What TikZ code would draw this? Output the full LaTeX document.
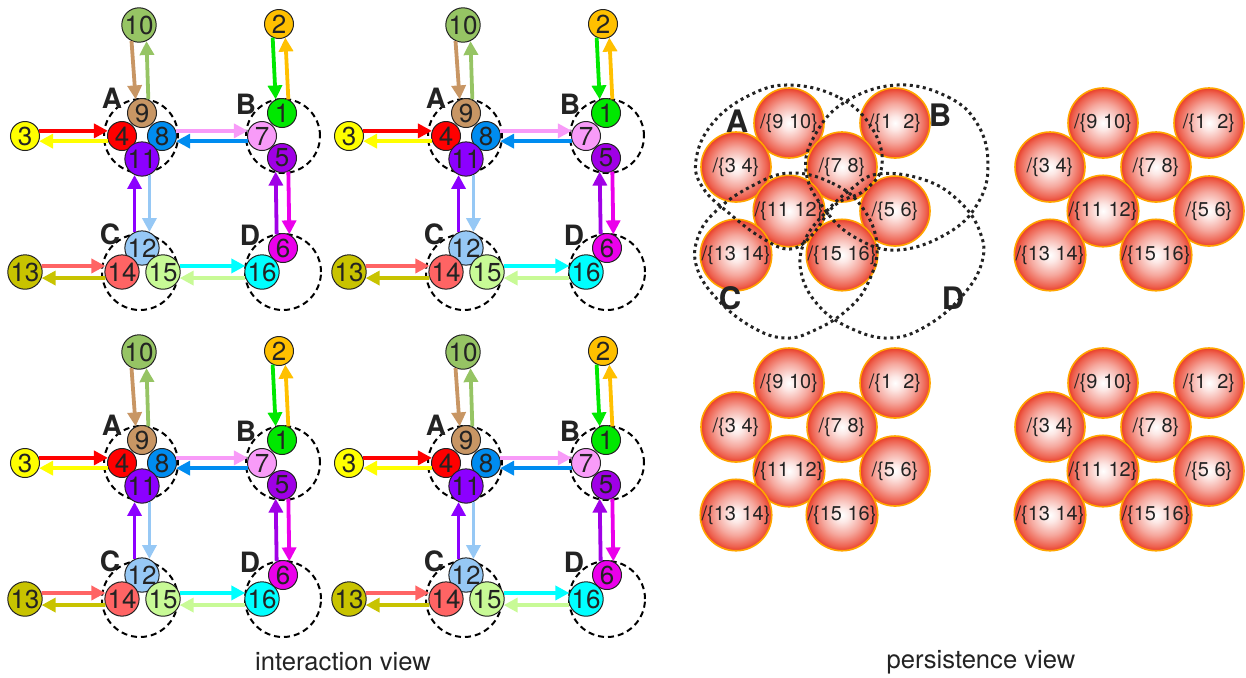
\documentclass[tikz,border=0pt]{standalone}
\usepackage{fontspec}
\setmainfont{TeX Gyre Heros}
\usetikzlibrary{arrows.meta}

\definecolor{c1}{RGB}{0,232,0}
\definecolor{c2}{RGB}{255,192,0}
\definecolor{c3}{RGB}{255,255,0}
\definecolor{c4}{RGB}{255,0,0}
\definecolor{c5}{RGB}{160,0,230}
\definecolor{c6}{RGB}{235,0,235}
\definecolor{c7}{RGB}{248,155,248}
\definecolor{c8}{RGB}{0,140,240}
\definecolor{c9}{RGB}{200,150,100}
\definecolor{c10}{RGB}{150,196,100}
\definecolor{c11}{RGB}{140,0,255}
\definecolor{c12}{RGB}{150,200,245}
\definecolor{c13}{RGB}{200,195,0}
\definecolor{c14}{RGB}{255,100,100}
\definecolor{c15}{RGB}{200,250,150}
\definecolor{c16}{RGB}{0,255,255}
\definecolor{ballred}{RGB}{234,62,40}
\definecolor{ballrim}{RGB}{255,165,0}
\definecolor{ink}{RGB}{35,35,35}

\pgfdeclareradialshading{ballshade}{\pgfpoint{0bp}{0bp}}{%
  color(0bp)=(white); color(5bp)=(white!88!ballred); color(14bp)=(white!55!ballred);
  color(22bp)=(white!18!ballred); color(25bp)=(ballred); color(50bp)=(ballred)}

\begin{document}
\begin{tikzpicture}[x=0.5pt, y=-0.5pt,
    agent/.style={circle, draw=ink, line width=0.5pt, minimum size=14.5pt, inner sep=0pt,
                  font=\fontsize{13}{13}\selectfont, text=ink},
    group/.style={draw=black, line width=1pt, dash pattern=on 3pt off 2pt},
    glabel/.style={font=\fontsize{14}{14}\selectfont\bfseries, text=ink},
    plabel/.style={font=\fontsize{15.5}{15.5}\selectfont\bfseries, text=ink},
    msg/.style={line width=1.9pt, -{Triangle[length=7pt,width=7pt]}},
    ball/.style={circle, draw=ballrim, line width=0.8pt, minimum size=35pt, inner sep=0pt,
                 shading=ballshade, font=\fontsize{10}{10}\selectfont, text=ink},
    blob/.style={draw=ink, line width=1.5pt, dash pattern=on 1.5pt off 1.8pt},
    caption/.style={font=\fontsize{12.8}{12.8}\selectfont, text=ink}
]
\useasboundingbox (0,0) rectangle (1246,677);

%------------------------ interaction view (4 copies) ------------------------
\foreach \dx/\dy/\p in {0/0/a, 324/0/b, 0/327/c, 324/327/d} {
  \begin{scope}[shift={(\dx,\dy)}, name prefix=\p-]
    % groups A--D
    \draw[group] (141,136) circle[radius=18.5pt];
    \draw[group] (283,136) circle[radius=18.5pt];
    \draw[group] (140,272) circle[radius=19pt];
    \draw[group] (283,272) circle[radius=19pt];
    \node[glabel] (lA) at (112,98) {A};
    \node[glabel] (lB) at (246,104) {B};
    \node[glabel] (lC) at (110,234) {C};
    \node[glabel] (lD) at (250,235) {D};

    % agents
    \foreach \n/\x/\y in {1/282/113, 2/279/24, 3/25/136, 4/122/136, 5/282/158,
                          6/283/248, 7/262/136, 8/162/136, 9/142/113, 10/139/25,
                          11/142/159, 12/142/248, 13/25/272, 14/122/272,
                          15/163/272, 16/262/272}
      \node[agent, fill=c\n] (n\n) at (\x,\y) {\n};

    % messages, coloured like the receiver
    \foreach \src/\dst/\sa/\da in {10/9/245/115, 9/10/65/295, 2/1/245/115, 1/2/65/295,
                                   3/4/20/160, 4/3/200/340, 8/7/20/160, 7/8/200/340,
                                   12/11/115/245, 11/12/295/65, 6/5/115/245, 5/6/295/65,
                                   13/14/20/160, 14/13/200/340, 15/16/20/160, 16/15/200/340}
      \draw[msg, draw=c\dst] (n\src.\sa) -- (n\dst.\da);
  \end{scope}
}

%------------------------ persistence view (4 copies) ------------------------
\foreach \dx/\dy/\p in {0/0/a, 314/0/b, 0/260/c, 314/260/d} {
  \begin{scope}[shift={(\dx,\dy)}, name prefix=\p-]
    \node[ball] (b910)  at (789,123) {/\{9 10\}};
    \node[ball] (b12)   at (895,123) {/\{1\ \ 2\}};
    \node[ball] (b34)   at (736,167) {/\{3 4\}};
    \node[ball] (b78)   at (842,167) {/\{7 8\}};
    \node[ball] (b1112) at (789,211) {/\{11 12\}};
    \node[ball] (b56)   at (895,211) {/\{5 6\}};
    \node[ball] (b1314) at (736,255) {/\{13 14\}};
    \node[ball] (b1516) at (842,255) {/\{15 16\}};
  \end{scope}
}

% groups over the first copy
\draw[blob] plot[smooth cycle, tension=0.7] coordinates {(790,85) (840,98) (872,128)
  (882,165) (865,190) (835,205) (812,235) (790,249) (762,238) (730,214) (703,188)
  (696,160) (712,124) (748,96)};
\draw[blob] plot[smooth cycle, tension=0.7] coordinates {(897,85) (948,97) (978,125)
  (988,165) (978,203) (948,233) (898,250) (856,238) (825,210) (806,172) (815,135)
  (845,102)};
\draw[blob] plot[smooth cycle, tension=0.7] coordinates {(790,173) (832,183) (862,207)
  (877,245) (868,283) (847,310) (815,330) (785,338) (752,327) (718,300) (697,268)
  (698,237) (717,210) (752,186)};
\draw[blob] plot[smooth cycle, tension=0.7] coordinates {(878,174) (925,180) (960,202)
  (980,232) (982,262) (963,295) (928,325) (890,338) (850,328) (818,305) (801,272)
  (805,240) (825,213) (850,190)};
\node[plabel] (pA) at (737,121) {A};
\node[plabel] (pB) at (940,115) {B};
\node[plabel] (pC) at (730,298) {C};
\node[plabel] (pD) at (953,298) {D};

%------------------------ captions ------------------------
\node[caption] (capI) at (343,662) {interaction view};
\node[caption] (capP) at (981,662) {persistence view};

\end{tikzpicture}
\end{document}
